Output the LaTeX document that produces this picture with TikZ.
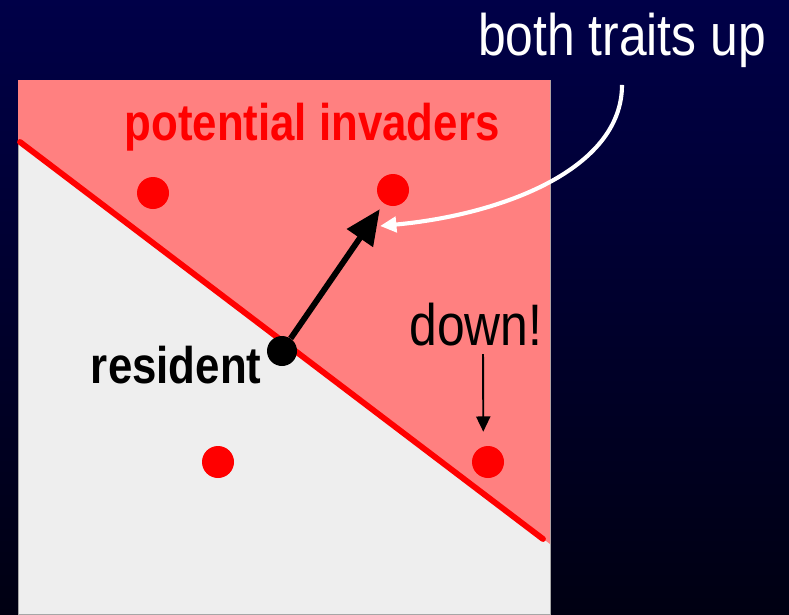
\documentclass[tikz,border=0pt]{standalone}
\usepackage{fontspec}
\setmainfont{Liberation Sans}[FakeStretch=0.85]
\usetikzlibrary{arrows.meta,positioning}

\definecolor{navytop}{RGB}{0,0,72}
\definecolor{navybot}{RGB}{0,0,18}
\definecolor{invaderpink}{RGB}{255,128,128}
\definecolor{panelgrey}{RGB}{238,238,238}

\tikzset{
  trait/.style={circle,fill=red,inner sep=0pt,minimum size=0.96cm},
  resdot/.style={circle,fill=black,inner sep=0pt,minimum size=0.9cm},
  bigtext/.style={anchor=base,inner sep=2pt,font=\fontsize{50}{52}\selectfont},
  boldtext/.style={anchor=base,inner sep=2pt,font=\fontsize{44}{46}\selectfont\bfseries}
}

\begin{document}
\begin{tikzpicture}[x=0.03cm,y=-0.03cm]

\shade[top color=navytop,bottom color=navybot] (0,0) rectangle (789,614);

\filldraw[draw=gray!70,fill=panelgrey,line width=0.8pt] (18,80) rectangle (550,614);
\fill[invaderpink] (18,80) -- (550,80) -- (550,544) -- (18,141) -- cycle;
\draw[red,line width=5pt,line cap=round] (20,142) -- (543,539);

\node[boldtext,text=red] (invlabel) at (312,140) {potential invaders};
\node[bigtext,text=white] (bothup) at (622,55) {both traits up};
\node[bigtext] (down) at (476,345) {down!};

\node[trait] (upleft) at (153,193) {};
\node[trait] (upright) at (393,190) {};
\node[trait] (lowleft) at (218,462) {};
\node[trait] (lowright) at (488,462) {};
\node[resdot] (res) at (282,351) {};
\node[boldtext,anchor=base east] (reslabel) at (264,383) {resident};

\coordinate (uptip) at (380,226);

\draw[line width=5pt,-{Triangle[length=30pt,width=26pt]},shorten >=6pt] (res) -- (upright);
\draw[white,line width=3.5pt,-{Triangle[length=14pt,width=13pt]},shorten <=13pt]
  (bothup.south) .. controls (622,170) and (500,215) .. (uptip);
\draw[line width=1.6pt,-{Triangle[length=13pt,width=12pt]},shorten <=5pt,shorten >=12pt]
  ([xshift=6pt]down.south) -- ([xshift=-4pt]lowright.north);

\end{tikzpicture}
\end{document}
